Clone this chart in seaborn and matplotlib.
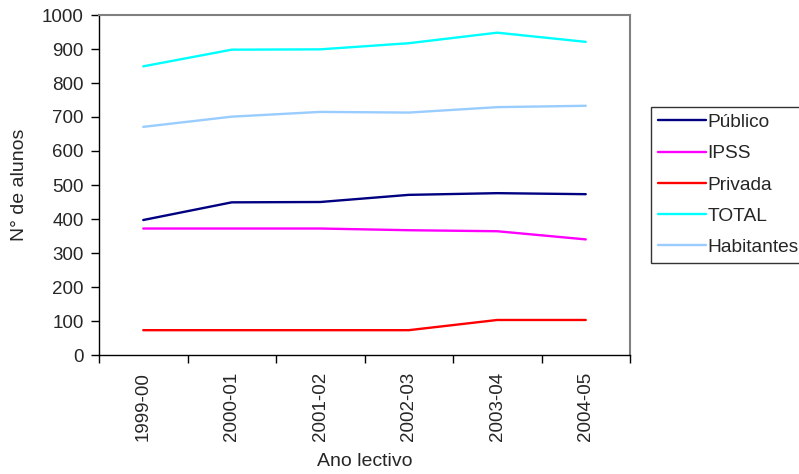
import matplotlib
matplotlib.use("Agg")
import matplotlib.pyplot as plt
import seaborn as sns
import numpy as np
import pandas as pd
from matplotlib.lines import Line2D

categories = ["1999-00", "2000-01", "2001-02", "2002-03", "2003-04", "2004-05"]
publico = [397, 449, 450, 471, 476, 473]
ipss = [372, 372, 372, 367, 364, 340]
privada = [73, 73, 73, 73, 103, 103]
total = [849, 898, 899, 917, 948, 921]
habitantes = [671, 701, 715, 713, 729, 733]
series_names = ["Público", "IPSS", "Privada", "TOTAL", "Habitantes"]
colors = ["#000080", "#FF00FF", "#FF0000", "#00FFFF", "#99CCFF"]

values = [publico, ipss, privada, total, habitantes]
rows = []
for name, vals in zip(series_names, values):
    for i, v in enumerate(vals):
        rows.append({"idx": i, "valor": v, "serie": name})
df = pd.DataFrame(rows)

sns.set_style("white")
plt.rcParams["font.family"] = ["Liberation Sans", "DejaVu Sans"]

TICK_FS = 13.5
LAB_FS = 14
LEG_FS = 13.8

fig = plt.figure(figsize=(7.99, 4.74), dpi=100)
ax = fig.add_axes([99 / 799, 1 - 355 / 474, 531 / 799, 340 / 474])

sns.lineplot(data=df, x="idx", y="valor", hue="serie", hue_order=series_names,
             palette=colors, linewidth=1.7, ax=ax, legend=False, sort=False)

ax.set_xlim(-0.5, len(categories) - 0.5)
ax.set_ylim(0, 1000)
ax.set_yticks(np.arange(0, 1001, 100))
ax.set_yticklabels([str(v) for v in range(0, 1001, 100)], fontsize=TICK_FS)
ax.set_xticks(np.arange(-0.5, len(categories), 1))
ax.set_xticklabels([])
ax.set_xticks(np.arange(len(categories)), minor=True)
ax.set_xticklabels(categories, minor=True, rotation=90, fontsize=TICK_FS)
ax.tick_params(axis="x", which="major", direction="out", length=5.5, width=1, color="black", bottom=True)
ax.tick_params(axis="x", which="minor", length=0, pad=12, bottom=True)
ax.tick_params(axis="y", direction="out", length=6, width=1, color="black", pad=5, left=True)

for side in ["top", "right"]:
    ax.spines[side].set_color("#808080")
    ax.spines[side].set_linewidth(1.5)
for side in ["left", "bottom"]:
    ax.spines[side].set_color("black")
    ax.spines[side].set_linewidth(1.0)

ax.set_xlabel("Ano lectivo", fontsize=LAB_FS, va="center")
ax.xaxis.set_label_coords(0.5, (355 - 461) / 340)
ax.set_ylabel("N° de alunos", fontsize=LAB_FS, va="center")
ax.yaxis.set_label_coords(-(99 - 20) / 531, 0.5)

handles = [Line2D([0], [0], color=c, lw=1.7) for c in colors]
leg = fig.legend(handles, series_names, loc="upper left",
                 bbox_to_anchor=(651 / 799, 1 - 107 / 474),
                 fontsize=LEG_FS, frameon=True, fancybox=False, shadow=False,
                 handlelength=2.5, handletextpad=0.1, labelspacing=0.72,
                 borderpad=0.35, borderaxespad=0)
leg.get_frame().set_edgecolor("black")
leg.get_frame().set_linewidth(1.0)

fig.savefig("out.png", dpi=100)
